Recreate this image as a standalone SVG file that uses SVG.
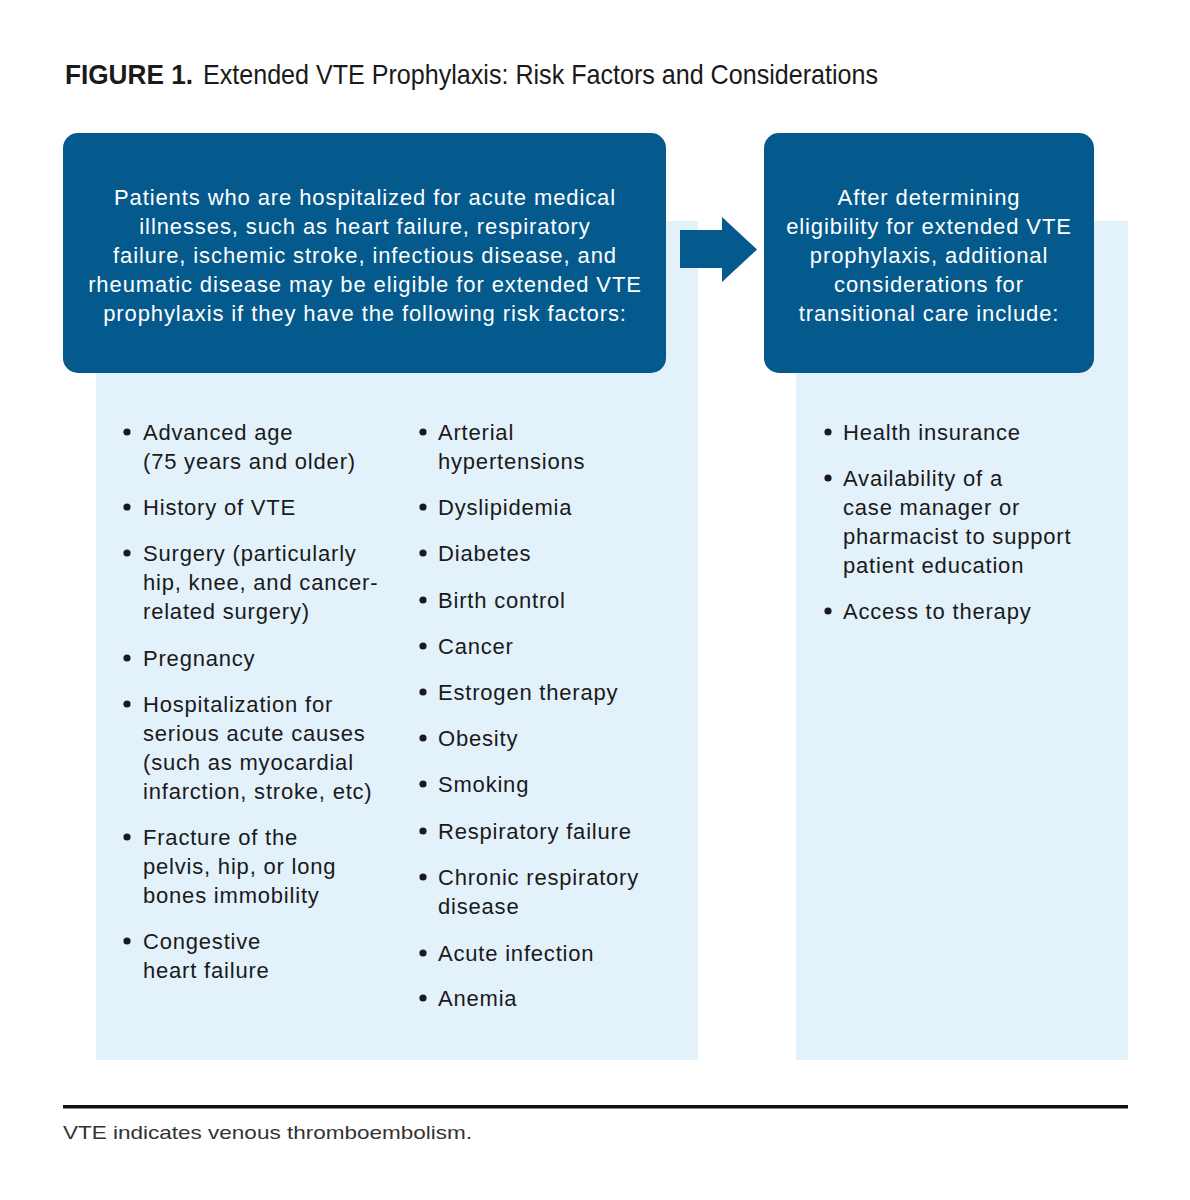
<svg xmlns="http://www.w3.org/2000/svg" width="1190" height="1200" viewBox="0 0 1190 1200">
<style>
.panel{fill:#e3f1fa}
.head{fill:#045a8d}
.ht{font-family:"Liberation Sans",Arial,sans-serif;font-size:22px;fill:#ffffff;text-anchor:middle;letter-spacing:0.9px}
.li{font-family:"Liberation Sans",Arial,sans-serif;font-size:22px;fill:#1a1a1a;letter-spacing:0.8px}
.b{fill:#1a1a1a}
</style>
<rect width="1190" height="1200" fill="#ffffff"/>
<g id="title">
<text x="65" y="84" font-family="Liberation Sans,Arial,sans-serif" font-size="28" font-weight="bold" fill="#1a1a1a" textLength="128" lengthAdjust="spacingAndGlyphs">FIGURE 1.</text>
<text x="203" y="84" font-family="Liberation Sans,Arial,sans-serif" font-size="28" fill="#1a1a1a" textLength="675" lengthAdjust="spacingAndGlyphs">Extended VTE Prophylaxis: Risk Factors and Considerations</text>
</g>
<g id="panel-left"><rect class="panel" x="96" y="221" width="602" height="839"/></g>
<g id="panel-right"><rect class="panel" x="796" y="221" width="332" height="839"/></g>
<g id="box-left">
<rect class="head" x="63" y="133" width="603" height="240" rx="15"/>
<text class="ht" x="365" y="205">Patients who are hospitalized for acute medical</text>
<text class="ht" x="365" y="234">illnesses, such as heart failure, respiratory</text>
<text class="ht" x="365" y="263">failure, ischemic stroke, infectious disease, and</text>
<text class="ht" x="365" y="292">rheumatic disease may be eligible for extended VTE</text>
<text class="ht" x="365" y="321">prophylaxis if they have the following risk factors:</text>
</g>
<g id="box-right">
<rect class="head" x="764" y="133" width="330" height="240" rx="15"/>
<text class="ht" x="929" y="205">After determining</text>
<text class="ht" x="929" y="234">eligibility for extended VTE</text>
<text class="ht" x="929" y="263">prophylaxis, additional</text>
<text class="ht" x="929" y="292">considerations for</text>
<text class="ht" x="929" y="321">transitional care include:</text>
</g>
<g id="connectors">
<polygon class="head" points="680,230 722,230 722,217 757,249.5 722,282 722,268 680,268"/>
</g>
<g id="list-left">
<circle class="b" cx="127" cy="432" r="3.6"/><text class="li" x="143" y="440">Advanced age</text><text class="li" x="143" y="469">(75 years and older)</text>
<circle class="b" cx="127" cy="507" r="3.6"/><text class="li" x="143" y="515">History of VTE</text>
<circle class="b" cx="127" cy="553" r="3.6"/><text class="li" x="143" y="561">Surgery (particularly</text><text class="li" x="143" y="590">hip, knee, and cancer-</text><text class="li" x="143" y="619">related surgery)</text>
<circle class="b" cx="127" cy="658" r="3.6"/><text class="li" x="143" y="666">Pregnancy</text>
<circle class="b" cx="127" cy="704" r="3.6"/><text class="li" x="143" y="712">Hospitalization for</text><text class="li" x="143" y="741">serious acute causes</text><text class="li" x="143" y="770">(such as myocardial</text><text class="li" x="143" y="799">infarction, stroke, etc)</text>
<circle class="b" cx="127" cy="837" r="3.6"/><text class="li" x="143" y="845">Fracture of the</text><text class="li" x="143" y="874">pelvis, hip, or long</text><text class="li" x="143" y="903">bones immobility</text>
<circle class="b" cx="127" cy="941" r="3.6"/><text class="li" x="143" y="949">Congestive</text><text class="li" x="143" y="978">heart failure</text>
</g>
<g id="list-mid">
<circle class="b" cx="423" cy="432" r="3.6"/><text class="li" x="438" y="440">Arterial</text><text class="li" x="438" y="469">hypertensions</text>
<circle class="b" cx="423" cy="507" r="3.6"/><text class="li" x="438" y="515">Dyslipidemia</text>
<circle class="b" cx="423" cy="553" r="3.6"/><text class="li" x="438" y="561">Diabetes</text>
<circle class="b" cx="423" cy="600" r="3.6"/><text class="li" x="438" y="608">Birth control</text>
<circle class="b" cx="423" cy="646" r="3.6"/><text class="li" x="438" y="654">Cancer</text>
<circle class="b" cx="423" cy="692" r="3.6"/><text class="li" x="438" y="700">Estrogen therapy</text>
<circle class="b" cx="423" cy="738" r="3.6"/><text class="li" x="438" y="746">Obesity</text>
<circle class="b" cx="423" cy="784" r="3.6"/><text class="li" x="438" y="792">Smoking</text>
<circle class="b" cx="423" cy="831" r="3.6"/><text class="li" x="438" y="839">Respiratory failure</text>
<circle class="b" cx="423" cy="877" r="3.6"/><text class="li" x="438" y="885">Chronic respiratory</text><text class="li" x="438" y="914">disease</text>
<circle class="b" cx="423" cy="953" r="3.6"/><text class="li" x="438" y="961">Acute infection</text>
<circle class="b" cx="423" cy="998" r="3.6"/><text class="li" x="438" y="1006">Anemia</text>
</g>
<g id="list-right">
<circle class="b" cx="828" cy="432" r="3.6"/><text class="li" x="843" y="440">Health insurance</text>
<circle class="b" cx="828" cy="478" r="3.6"/><text class="li" x="843" y="486">Availability of a</text><text class="li" x="843" y="515">case manager or</text><text class="li" x="843" y="544">pharmacist to support</text><text class="li" x="843" y="573">patient education</text>
<circle class="b" cx="828" cy="611" r="3.6"/><text class="li" x="843" y="619">Access to therapy</text>
</g>
<g id="footer">
<rect x="63" y="1105" width="1065" height="3.5" fill="#111111"/>
<text x="63" y="1139" font-family="Liberation Sans,Arial,sans-serif" font-size="19" fill="#333333" textLength="409" lengthAdjust="spacingAndGlyphs">VTE indicates venous thromboembolism.</text>
</g>
</svg>
